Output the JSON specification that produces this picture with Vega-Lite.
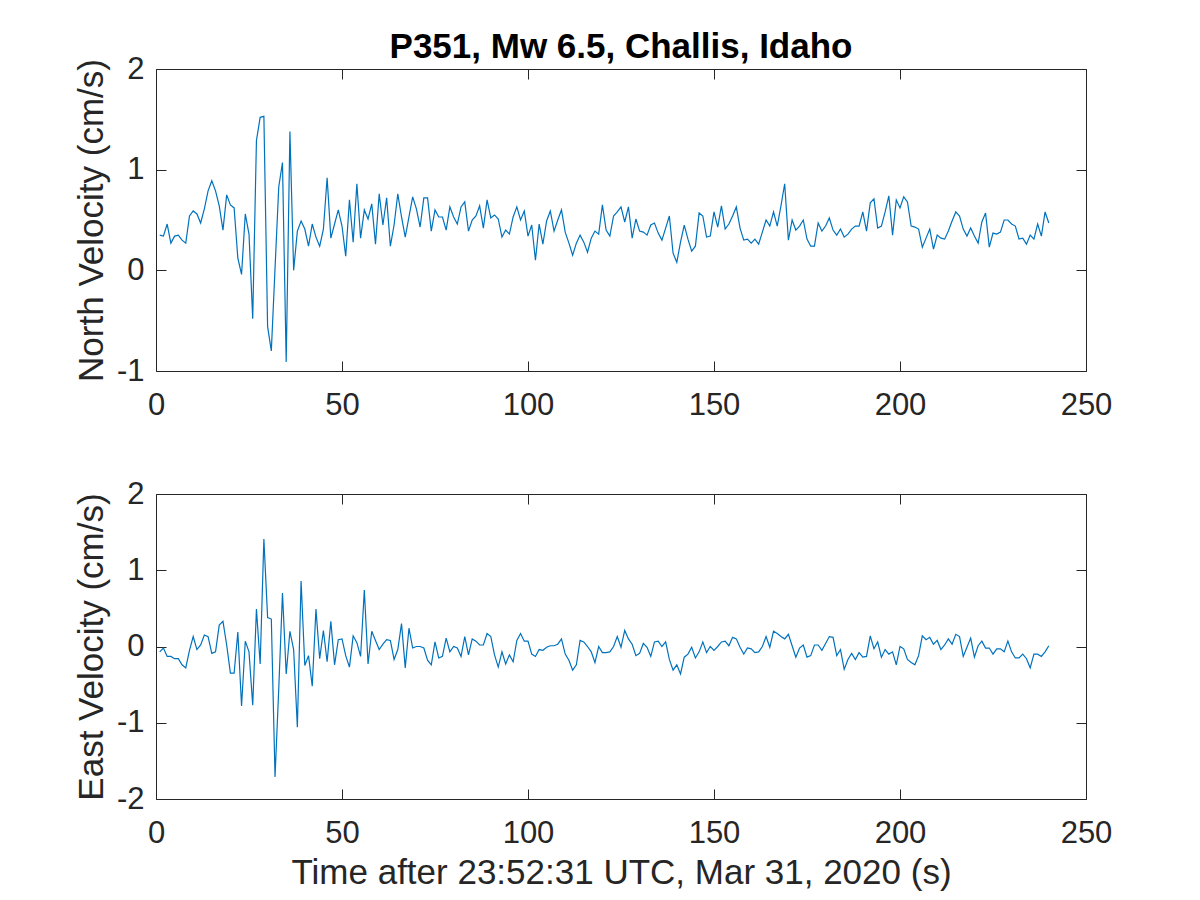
{
"$schema": "https://vega.github.io/schema/vega-lite/v6.json",
"background": "white",
"padding": {"left": 73, "top": 29, "right": 5, "bottom": 5},
"config": {
  "font": "Liberation Sans",
  "view": {"stroke": "#262626", "strokeWidth": 1},
  "axis": {"grid": false, "domain": false, "tickColor": "#262626", "tickSize": -10, "tickWidth": 1, "labelColor": "#262626", "labelFontSize": 31, "titleFontSize": 35, "titleFontWeight": "normal", "titleColor": "#262626", "labelFlush": false, "labelOverlap": false},
  "axisX": {"labelPadding": 29, "titlePadding": 7},
  "axisY": {"labelPadding": 22, "titlePadding": 7}
},
"data": {"values": [
{"t":1,"n":0.35,"e":-0.07},{"t":2,"n":0.34,"e":-0.02},{"t":3,"n":0.46,"e":-0.13},{"t":4,"n":0.27,"e":-0.13},{"t":5,"n":0.34,"e":-0.16},{"t":6,"n":0.35,"e":-0.16},{"t":7,"n":0.30,"e":-0.24},{"t":8,"n":0.27,"e":-0.28},{"t":9,"n":0.54,"e":-0.05},{"t":10,"n":0.59,"e":0.13},
{"t":11,"n":0.56,"e":-0.04},{"t":12,"n":0.47,"e":0.02},{"t":13,"n":0.61,"e":0.15},{"t":14,"n":0.79,"e":0.13},{"t":15,"n":0.89,"e":-0.09},{"t":16,"n":0.79,"e":-0.07},{"t":17,"n":0.64,"e":0.28},{"t":18,"n":0.40,"e":0.33},{"t":19,"n":0.75,"e":0.02},{"t":20,"n":0.65,"e":-0.35},
{"t":21,"n":0.62,"e":-0.35},{"t":22,"n":0.12,"e":0.19},{"t":23,"n":-0.04,"e":-0.78},{"t":24,"n":0.56,"e":0.07},{"t":25,"n":0.36,"e":-0.07},{"t":26,"n":-0.48,"e":-0.77},{"t":27,"n":1.29,"e":0.49},{"t":28,"n":1.52,"e":-0.23},{"t":29,"n":1.53,"e":1.41},{"t":30,"n":-0.56,"e":0.38},
{"t":31,"n":-0.80,"e":0.36},{"t":32,"n":0.02,"e":-1.71},{"t":33,"n":0.83,"e":-0.55},{"t":34,"n":1.07,"e":0.70},{"t":35,"n":-0.91,"e":-0.36},{"t":36,"n":1.38,"e":0.20},{"t":37,"n":0.00,"e":-0.04},{"t":38,"n":0.39,"e":-1.06},{"t":39,"n":0.49,"e":0.86},{"t":40,"n":0.41,"e":-0.25},
{"t":41,"n":0.24,"e":-0.12},{"t":42,"n":0.46,"e":-0.52},{"t":43,"n":0.33,"e":0.49},{"t":44,"n":0.24,"e":-0.16},{"t":45,"n":0.41,"e":0.21},{"t":46,"n":0.92,"e":-0.20},{"t":47,"n":0.32,"e":0.33},{"t":48,"n":0.46,"e":-0.24},{"t":49,"n":0.60,"e":0.09},{"t":50,"n":0.44,"e":0.10},
{"t":51,"n":0.14,"e":-0.12},{"t":52,"n":0.70,"e":-0.27},{"t":53,"n":0.28,"e":0.14},{"t":54,"n":0.86,"e":0.05},{"t":55,"n":0.32,"e":-0.13},{"t":56,"n":0.60,"e":0.74},{"t":57,"n":0.51,"e":-0.23},{"t":58,"n":0.66,"e":0.20},{"t":59,"n":0.26,"e":0.08},{"t":60,"n":0.76,"e":-0.04},
{"t":61,"n":0.45,"e":0.03},{"t":62,"n":0.72,"e":0.09},{"t":63,"n":0.24,"e":0.08},{"t":64,"n":0.45,"e":-0.17},{"t":65,"n":0.76,"e":-0.04},{"t":66,"n":0.53,"e":0.30},{"t":67,"n":0.33,"e":-0.28},{"t":68,"n":0.53,"e":0.24},{"t":69,"n":0.73,"e":-0.02},{"t":70,"n":0.61,"e":0.00},
{"t":71,"n":0.43,"e":0.00},{"t":72,"n":0.72,"e":-0.02},{"t":73,"n":0.72,"e":-0.18},{"t":74,"n":0.39,"e":-0.24},{"t":75,"n":0.60,"e":0.06},{"t":76,"n":0.53,"e":-0.15},{"t":77,"n":0.53,"e":-0.13},{"t":78,"n":0.40,"e":0.11},{"t":79,"n":0.63,"e":-0.07},{"t":80,"n":0.53,"e":0.00},
{"t":81,"n":0.46,"e":-0.02},{"t":82,"n":0.63,"e":-0.13},{"t":83,"n":0.68,"e":0.13},{"t":84,"n":0.39,"e":-0.11},{"t":85,"n":0.50,"e":0.10},{"t":86,"n":0.54,"e":0.07},{"t":87,"n":0.64,"e":0.02},{"t":88,"n":0.42,"e":0.02},{"t":89,"n":0.70,"e":0.17},{"t":90,"n":0.52,"e":0.13},
{"t":91,"n":0.55,"e":-0.11},{"t":92,"n":0.51,"e":-0.27},{"t":93,"n":0.33,"e":-0.07},{"t":94,"n":0.40,"e":-0.23},{"t":95,"n":0.36,"e":-0.11},{"t":96,"n":0.53,"e":-0.20},{"t":97,"n":0.63,"e":0.08},{"t":98,"n":0.50,"e":0.17},{"t":99,"n":0.59,"e":0.07},{"t":100,"n":0.34,"e":0.07},
{"t":101,"n":0.45,"e":-0.10},{"t":102,"n":0.10,"e":-0.13},{"t":103,"n":0.46,"e":-0.04},{"t":104,"n":0.26,"e":-0.05},{"t":105,"n":0.49,"e":-0.01},{"t":106,"n":0.59,"e":0.01},{"t":107,"n":0.39,"e":0.01},{"t":108,"n":0.50,"e":0.03},{"t":109,"n":0.60,"e":0.10},{"t":110,"n":0.38,"e":-0.10},
{"t":111,"n":0.27,"e":-0.18},{"t":112,"n":0.15,"e":-0.31},{"t":113,"n":0.27,"e":-0.24},{"t":114,"n":0.35,"e":0.08},{"t":115,"n":0.28,"e":0.06},{"t":116,"n":0.18,"e":0.00},{"t":117,"n":0.32,"e":-0.07},{"t":118,"n":0.39,"e":-0.21},{"t":119,"n":0.36,"e":0.00},{"t":120,"n":0.65,"e":-0.08},
{"t":121,"n":0.40,"e":-0.08},{"t":122,"n":0.34,"e":-0.07},{"t":123,"n":0.54,"e":0.00},{"t":124,"n":0.58,"e":0.13},{"t":125,"n":0.63,"e":-0.01},{"t":126,"n":0.48,"e":0.21},{"t":127,"n":0.63,"e":0.10},{"t":128,"n":0.32,"e":0.03},{"t":129,"n":0.51,"e":-0.12},{"t":130,"n":0.39,"e":-0.09},
{"t":131,"n":0.38,"e":0.04},{"t":132,"n":0.35,"e":-0.01},{"t":133,"n":0.45,"e":-0.13},{"t":134,"n":0.47,"e":0.06},{"t":135,"n":0.37,"e":0.07},{"t":136,"n":0.30,"e":0.00},{"t":137,"n":0.42,"e":0.06},{"t":138,"n":0.54,"e":-0.17},{"t":139,"n":0.17,"e":-0.31},{"t":140,"n":0.08,"e":-0.24},
{"t":141,"n":0.28,"e":-0.36},{"t":142,"n":0.45,"e":-0.14},{"t":143,"n":0.31,"e":-0.10},{"t":144,"n":0.19,"e":-0.01},{"t":145,"n":0.24,"e":-0.15},{"t":146,"n":0.57,"e":-0.07},{"t":147,"n":0.54,"e":0.06},{"t":148,"n":0.33,"e":-0.08},{"t":149,"n":0.34,"e":0.00},{"t":150,"n":0.58,"e":-0.05},
{"t":151,"n":0.43,"e":0.00},{"t":152,"n":0.64,"e":0.06},{"t":153,"n":0.41,"e":0.07},{"t":154,"n":0.46,"e":0.01},{"t":155,"n":0.54,"e":0.12},{"t":156,"n":0.63,"e":0.10},{"t":157,"n":0.42,"e":-0.01},{"t":158,"n":0.30,"e":-0.10},{"t":159,"n":0.31,"e":-0.02},{"t":160,"n":0.27,"e":-0.03},
{"t":161,"n":0.31,"e":-0.08},{"t":162,"n":0.26,"e":-0.07},{"t":163,"n":0.38,"e":0.00},{"t":164,"n":0.50,"e":0.13},{"t":165,"n":0.44,"e":-0.01},{"t":166,"n":0.58,"e":0.20},{"t":167,"n":0.44,"e":0.17},{"t":168,"n":0.64,"e":0.13},{"t":169,"n":0.86,"e":0.10},{"t":170,"n":0.30,"e":0.16},
{"t":171,"n":0.50,"e":0.01},{"t":172,"n":0.40,"e":-0.14},{"t":173,"n":0.44,"e":-0.02},{"t":174,"n":0.50,"e":0.02},{"t":175,"n":0.31,"e":-0.14},{"t":176,"n":0.24,"e":-0.12},{"t":177,"n":0.24,"e":0.02},{"t":178,"n":0.47,"e":0.02},{"t":179,"n":0.39,"e":-0.05},{"t":180,"n":0.44,"e":0.04},
{"t":181,"n":0.52,"e":0.13},{"t":182,"n":0.40,"e":0.12},{"t":183,"n":0.35,"e":-0.12},{"t":184,"n":0.41,"e":-0.04},{"t":185,"n":0.33,"e":-0.30},{"t":186,"n":0.36,"e":-0.17},{"t":187,"n":0.41,"e":-0.09},{"t":188,"n":0.44,"e":-0.17},{"t":189,"n":0.44,"e":-0.08},{"t":190,"n":0.58,"e":-0.14},
{"t":191,"n":0.39,"e":-0.13},{"t":192,"n":0.67,"e":0.14},{"t":193,"n":0.71,"e":-0.03},{"t":194,"n":0.42,"e":0.06},{"t":195,"n":0.44,"e":-0.14},{"t":196,"n":0.58,"e":-0.04},{"t":197,"n":0.74,"e":-0.10},{"t":198,"n":0.35,"e":-0.07},{"t":199,"n":0.70,"e":-0.24},{"t":200,"n":0.62,"e":0.00},
{"t":201,"n":0.73,"e":-0.03},{"t":202,"n":0.68,"e":-0.17},{"t":203,"n":0.44,"e":-0.21},{"t":204,"n":0.43,"e":-0.24},{"t":205,"n":0.41,"e":-0.12},{"t":206,"n":0.23,"e":0.14},{"t":207,"n":0.32,"e":0.09},{"t":208,"n":0.41,"e":0.12},{"t":209,"n":0.21,"e":0.03},{"t":210,"n":0.35,"e":0.08},
{"t":211,"n":0.32,"e":-0.04},{"t":212,"n":0.31,"e":0.02},{"t":213,"n":0.39,"e":0.10},{"t":214,"n":0.49,"e":0.03},{"t":215,"n":0.58,"e":0.16},{"t":216,"n":0.54,"e":0.13},{"t":217,"n":0.41,"e":-0.13},{"t":218,"n":0.34,"e":-0.01},{"t":219,"n":0.42,"e":0.11},{"t":220,"n":0.34,"e":-0.14},
{"t":221,"n":0.27,"e":0.01},{"t":222,"n":0.48,"e":0.07},{"t":223,"n":0.57,"e":-0.02},{"t":224,"n":0.23,"e":-0.02},{"t":225,"n":0.37,"e":-0.10},{"t":226,"n":0.36,"e":-0.03},{"t":227,"n":0.38,"e":-0.03},{"t":228,"n":0.50,"e":-0.07},{"t":229,"n":0.50,"e":0.07},{"t":230,"n":0.46,"e":-0.07},
{"t":231,"n":0.44,"e":-0.15},{"t":232,"n":0.31,"e":-0.15},{"t":233,"n":0.32,"e":-0.10},{"t":234,"n":0.26,"e":-0.16},{"t":235,"n":0.35,"e":-0.28},{"t":236,"n":0.31,"e":-0.10},{"t":237,"n":0.46,"e":-0.10},{"t":238,"n":0.34,"e":-0.13},{"t":239,"n":0.58,"e":-0.07},{"t":240,"n":0.47,"e":0.01}
]},
"spacing": 56,
"vconcat": [
 {
  "width": 930, "height": 302,
  "title": {"text": "P351, Mw 6.5, Challis, Idaho", "fontSize": 35, "fontWeight": "bold", "anchor": "middle", "frame": "group", "color": "#000000", "offset": -12},
  "layer": [
   {"mark": {"type": "line", "color": "#0072BD", "strokeWidth": 1.2},
    "encoding": {
     "x": {"field": "t", "type": "quantitative", "scale": {"domain": [0, 250], "nice": false}, "axis": {"values": [0, 50, 100, 150, 200, 250], "title": null}},
     "y": {"field": "n", "type": "quantitative", "scale": {"domain": [-1, 2], "nice": false}, "axis": {"values": [-1, 0, 1, 2], "title": "North Velocity (cm/s)", "labelExpr": "'' + datum.value"}}
    }},
   {"mark": {"type": "line", "opacity": 0},
    "encoding": {
     "x": {"field": "t", "type": "quantitative", "axis": {"orient": "top", "values": [0, 50, 100, 150, 200, 250], "labels": false, "title": null}},
     "y": {"field": "n", "type": "quantitative", "axis": {"orient": "right", "values": [-1, 0, 1, 2], "labels": false, "title": null}}
    }}
  ],
  "resolve": {"axis": {"x": "independent", "y": "independent"}}
 },
 {
  "width": 930, "height": 305,
  "layer": [
   {"mark": {"type": "line", "color": "#0072BD", "strokeWidth": 1.2},
    "encoding": {
     "x": {"field": "t", "type": "quantitative", "scale": {"domain": [0, 250], "nice": false}, "axis": {"values": [0, 50, 100, 150, 200, 250], "title": "Time after 23:52:31 UTC, Mar 31, 2020 (s)"}},
     "y": {"field": "e", "type": "quantitative", "scale": {"domain": [-2, 2], "nice": false}, "axis": {"values": [-2, -1, 0, 1, 2], "title": "East Velocity (cm/s)", "labelExpr": "'' + datum.value"}}
    }},
   {"mark": {"type": "line", "opacity": 0},
    "encoding": {
     "x": {"field": "t", "type": "quantitative", "axis": {"orient": "top", "values": [0, 50, 100, 150, 200, 250], "labels": false, "title": null}},
     "y": {"field": "e", "type": "quantitative", "axis": {"orient": "right", "values": [-2, -1, 0, 1, 2], "labels": false, "title": null}}
    }}
  ],
  "resolve": {"axis": {"x": "independent", "y": "independent"}}
 }
]
}
